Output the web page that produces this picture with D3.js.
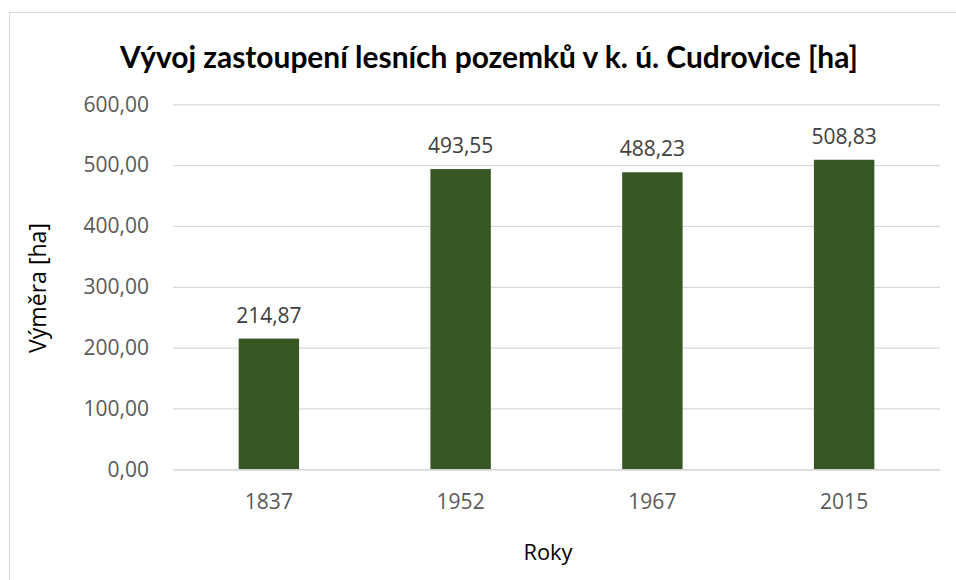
<!DOCTYPE html>
<html>
<head>
<meta charset="utf-8">
<script src="https://cdn.jsdelivr.net/npm/d3@7"></script>
<style>
  html, body { margin: 0; padding: 0; background: #fff; }
  svg { display: block; }
</style>
</head>
<body>
<svg id="chart" width="956" height="580"></svg>
<script>
const categories = ["1837", "1952", "1967", "2015"];
const values = [214.87, 493.55, 488.23, 508.83];
const yTicks = [0, 100, 200, 300, 400, 500, 600];
const titleText = "Vývoj zastoupení lesních pozemků v k. ú. Cudrovice [ha]";
const xTitleText = "Roky";
const yTitleText = "Výměra [ha]";

const svg = d3.select("#chart");
const plot = { left: 173, right: 940, top: 104.3, bottom: 469.3 };

const locale = d3.formatLocale({ decimal: ",", thousands: " ", grouping: [3], currency: ["", " Kč"] });
const fmt = locale.format(".2f");

svg.append("rect").attr("x", 9.5).attr("y", 12.5).attr("width", 1200).attr("height", 1000)
  .attr("fill", "#fff").attr("stroke", "#d9d9d9").attr("stroke-width", 1);

const x = d3.scaleBand().domain(categories).range([plot.left, plot.right])
  .paddingInner(0.685).paddingOuter(0.3425);
const y = d3.scaleLinear().domain([0, 600]).range([plot.bottom, plot.top]);

const FONT = "'Open Sans', 'DejaVu Sans', sans-serif";

const yAxis = svg.append("g").attr("transform", `translate(${plot.left},0)`)
  .call(d3.axisLeft(y).tickValues(yTicks).tickFormat(fmt)
    .tickSize(-(plot.right - plot.left)).tickPadding(24));
yAxis.select(".domain").remove();
yAxis.selectAll(".tick line").attr("stroke", "#d9d9d9").attr("stroke-width", 1.2);
yAxis.selectAll(".tick text").attr("fill", "#595959").style("font-family", FONT).style("font-size", "21px");

svg.append("g").selectAll("rect").data(values).join("rect")
  .attr("x", (d, i) => x(categories[i]))
  .attr("width", x.bandwidth())
  .attr("y", d => y(d))
  .attr("height", d => y(0) - y(d))
  .attr("fill", "#375623");

const xAxis = svg.append("g").attr("transform", `translate(0,${plot.bottom})`)
  .call(d3.axisBottom(x).tickSize(0).tickPadding(25));
xAxis.select(".domain").attr("stroke", "#d9d9d9").attr("stroke-width", 1.2);
xAxis.selectAll(".tick text").attr("fill", "#595959").style("font-family", FONT).style("font-size", "21px");

svg.append("g").selectAll("text").data(values).join("text")
  .attr("x", (d, i) => x(categories[i]) + x.bandwidth() / 2)
  .attr("y", d => y(d) - 16)
  .attr("text-anchor", "middle")
  .attr("fill", "#404040")
  .style("font-family", FONT).style("font-size", "21px")
  .text(d => fmt(d));

function fit(sel, target, base) {
  const len = sel.node().getComputedTextLength();
  sel.style("font-size", (base * target / len).toFixed(2) + "px");
}

const title = svg.append("text").attr("x", 489).attr("y", 68).attr("text-anchor", "middle")
  .attr("fill", "#000").style("font-family", "Lato, 'Open Sans', sans-serif").style("font-weight", "bold")
  .style("font-size", "26px").text(titleText);
fit(title, 738, 26);

const xt = svg.append("text").attr("x", 548).attr("y", 560).attr("text-anchor", "middle")
  .attr("fill", "#000").style("font-family", FONT).style("font-size", "22px").text(xTitleText);
fit(xt, 49, 22);

const yt = svg.append("text").attr("transform", "translate(46,288) rotate(-90)").attr("text-anchor", "middle")
  .attr("fill", "#000").style("font-family", FONT).style("font-size", "22px").text(yTitleText);
fit(yt, 130, 22);
</script>
</body>
</html>
